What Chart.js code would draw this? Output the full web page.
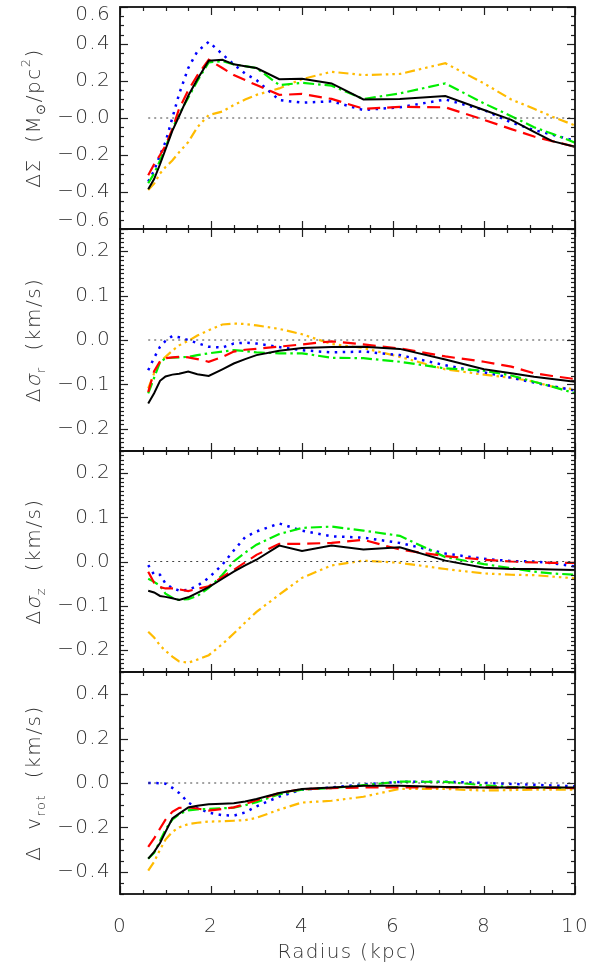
<!DOCTYPE html>
<html><head><meta charset="utf-8">
<script src="https://cdn.jsdelivr.net/npm/chart.js@4.4.1/dist/chart.umd.min.js"></script>
<style>
html,body{margin:0;padding:0;background:#fff;width:601px;height:965px;overflow:hidden}
canvas{position:absolute;left:0}
</style></head><body>
<canvas id="c0" width="601" height="234" style="top:1px"></canvas>
<canvas id="c1" width="601" height="234" style="top:223px"></canvas>
<canvas id="c2" width="601" height="233" style="top:445px"></canvas>
<canvas id="c3" width="601" height="299" style="top:666px"></canvas>
<script>
// ---------------- data ----------------
const radius = [0.62, 0.75, 0.88, 1.0, 1.15, 1.3, 1.5, 1.7, 1.95, 2.25, 2.5, 2.75, 3.0, 3.5, 4.0, 4.65, 5.35, 6.15, 7.15, 8.0, 8.6, 9.1, 9.5, 10.0];

// Delta Sigma (Msun/pc^2)
const surfBlack  = [-0.385,-0.33,-0.25,-0.17,-0.07,0.01,0.12,0.21,0.31,0.315,0.29,0.28,0.27,0.21,0.212,0.187,0.10,0.103,0.119,0.043,-0.01,-0.075,-0.125,-0.155];
const surfRed    = [-0.31,-0.25,-0.20,-0.15,-0.06,0.05,0.15,0.23,0.315,0.27,0.232,0.205,0.178,0.125,0.13,0.103,0.05,0.06,0.058,-0.01,-0.06,-0.10,-0.125,-0.155];
const surfGreen  = [-0.353,-0.30,-0.23,-0.16,-0.06,0.02,0.11,0.20,0.30,0.308,0.29,0.28,0.27,0.178,0.19,0.175,0.103,0.133,0.187,0.079,0.01,-0.05,-0.085,-0.133];
const surfBlue   = [-0.344,-0.285,-0.20,-0.13,0.0,0.13,0.27,0.36,0.412,0.345,0.29,0.24,0.205,0.097,0.083,0.09,0.043,0.058,0.10,0.043,-0.025,-0.065,-0.09,-0.123];
const surfOrange = [-0.389,-0.355,-0.30,-0.265,-0.23,-0.185,-0.13,-0.05,0.016,0.035,0.07,0.10,0.125,0.16,0.21,0.25,0.232,0.238,0.296,0.187,0.10,0.05,0.007,-0.04];

// Delta sigma_r (km/s)
const sigRBlack  = [-0.143,-0.12,-0.092,-0.082,-0.078,-0.076,-0.071,-0.077,-0.081,-0.066,-0.053,-0.043,-0.034,-0.024,-0.018,-0.016,-0.015,-0.02,-0.044,-0.066,-0.075,-0.083,-0.088,-0.094];
const sigRRed    = [-0.117,-0.07,-0.048,-0.041,-0.039,-0.038,-0.039,-0.043,-0.049,-0.038,-0.026,-0.022,-0.02,-0.015,-0.01,-0.003,-0.01,-0.019,-0.037,-0.049,-0.06,-0.075,-0.081,-0.088];
const sigRGreen  = [-0.12,-0.085,-0.05,-0.041,-0.04,-0.039,-0.038,-0.034,-0.03,-0.026,-0.023,-0.025,-0.028,-0.03,-0.03,-0.04,-0.041,-0.049,-0.064,-0.069,-0.08,-0.094,-0.105,-0.12];
const sigRBlue   = [-0.068,-0.04,-0.015,-0.002,0.009,0.006,0.0,-0.007,-0.015,-0.017,-0.008,-0.006,-0.008,-0.016,-0.023,-0.028,-0.026,-0.034,-0.057,-0.073,-0.085,-0.096,-0.104,-0.114];
const sigROrange = [-0.109,-0.075,-0.05,-0.038,-0.024,-0.012,-0.002,0.01,0.022,0.035,0.037,0.036,0.033,0.025,0.013,-0.009,-0.018,-0.038,-0.066,-0.078,-0.085,-0.094,-0.105,-0.111];

// Delta sigma_z (km/s)
const sigZBlack  = [-0.066,-0.07,-0.078,-0.08,-0.083,-0.087,-0.081,-0.071,-0.058,-0.039,-0.023,-0.009,0.004,0.036,0.024,0.036,0.027,0.032,0.002,-0.014,-0.017,-0.017,-0.018,-0.019];
const sigZRed    = [-0.023,-0.048,-0.058,-0.061,-0.061,-0.063,-0.067,-0.062,-0.056,-0.035,-0.019,-0.002,0.015,0.04,0.04,0.042,0.049,0.027,0.012,0.004,0.0,-0.002,-0.003,-0.003];
const sigZGreen  = [-0.039,-0.046,-0.055,-0.073,-0.082,-0.087,-0.085,-0.078,-0.06,-0.03,0.0,0.02,0.038,0.062,0.076,0.079,0.07,0.058,0.01,-0.006,-0.015,-0.023,-0.027,-0.03];
const sigZBlue   = [-0.008,-0.03,-0.03,-0.05,-0.06,-0.066,-0.064,-0.055,-0.037,-0.007,0.025,0.055,0.068,0.086,0.07,0.057,0.054,0.042,0.018,0.006,0.001,0.0,-0.004,-0.011];
const sigZOrange = [-0.159,-0.172,-0.19,-0.202,-0.215,-0.226,-0.229,-0.222,-0.212,-0.187,-0.163,-0.138,-0.114,-0.075,-0.037,-0.009,0.002,-0.003,-0.017,-0.027,-0.03,-0.031,-0.034,-0.038];

// Delta v_rot (km/s)
const vrotBlack  = [-0.341,-0.31,-0.27,-0.22,-0.16,-0.138,-0.11,-0.102,-0.096,-0.093,-0.091,-0.083,-0.072,-0.045,-0.027,-0.02,-0.012,-0.012,-0.018,-0.02,-0.02,-0.02,-0.02,-0.02];
const vrotRed    = [-0.288,-0.25,-0.205,-0.165,-0.13,-0.112,-0.11,-0.115,-0.124,-0.117,-0.11,-0.095,-0.078,-0.045,-0.028,-0.023,-0.02,-0.02,-0.02,-0.02,-0.021,-0.022,-0.022,-0.023];
const vrotGreen  = [-0.341,-0.315,-0.26,-0.21,-0.165,-0.14,-0.123,-0.119,-0.117,-0.114,-0.111,-0.10,-0.086,-0.051,-0.03,-0.023,-0.01,0.006,0.005,-0.01,-0.018,-0.02,-0.022,-0.023];
const vrotBlue   = [0.0,0.0,-0.001,-0.003,-0.022,-0.045,-0.088,-0.112,-0.134,-0.145,-0.147,-0.133,-0.105,-0.061,-0.03,-0.02,-0.006,0.005,0.006,0.0,-0.004,-0.008,-0.011,-0.015];
const vrotOrange = [-0.395,-0.355,-0.30,-0.255,-0.22,-0.20,-0.185,-0.179,-0.174,-0.172,-0.17,-0.167,-0.157,-0.12,-0.088,-0.08,-0.062,-0.026,-0.027,-0.034,-0.032,-0.03,-0.03,-0.03];

// ticks
const xTickValues = [0, 2, 4, 6, 8, 10];
const xTickLabels = ['0', '2', '4', '6', '8', '10'];
const yTicksSurf  = [-0.6, -0.4, -0.2, 0.0, 0.2, 0.4, 0.6];
const yLabelsSurf = [['\u22120.6',''], '\u22120.4', '\u22120.2', '\u22120.0', '0.2', '0.4', ['','0.6']];
const yTicksSig   = [-0.2, -0.1, 0.0, 0.1, 0.2];
const yLabelsSig  = ['\u22120.2', '\u22120.1', '0.0', '0.1', '0.2'];
const yTicksVrot  = [-0.4, -0.2, 0.0, 0.2, 0.4];
const yLabelsVrot = ['\u22120.4', '\u22120.2', '0.0', '0.2', '0.4'];

// ---------------- styles ----------------
const FONT = '"DejaVu Sans ExtraLight", "DejaVu Sans", sans-serif';
const FW = 200;
const TXT = '#333333';
const seriesStyles = [
  {color:'#000000', dash:[], w:2},
  {color:'#ff0000', dash:[13,7], w:2.2},
  {color:'#00ee00', dash:[11,4,2.5,4], w:2.2},
  {color:'#0000ff', dash:[2.5,5.5], w:2.5},
  {color:'#ffbb00', dash:[10,4,2.5,4,2.5,4,2.5,4], w:2.2}
];

const spacing = {
  id:'spacing',
  beforeDraw(chart){ chart.ctx.letterSpacing = '1.3px'; }
};

const frameTicks = {
  id:'frameTicks',
  afterDraw(chart, args, o){
    const {ctx, chartArea:a} = chart;
    const xs = chart.scales.x, ys = chart.scales.y;
    ctx.save();
    ctx.strokeStyle = '#222';
    ctx.lineWidth = 1.2;
    const line = (x1,y1,x2,y2)=>{ctx.beginPath();ctx.moveTo(x1,y1);ctx.lineTo(x2,y2);ctx.stroke();};
    const n = Math.round((xs.max - xs.min)/o.xMinor);
    for (let i=0;i<=n;i++){
      const v = xs.min + i*o.xMinor;
      const px = Math.round(xs.getPixelForValue(v))+0.5;
      const L = (i % o.xEvery === 0) ? 8 : 4;
      line(px, a.bottom, px, a.bottom-L);
      line(px, a.top, px, a.top+L);
    }
    const m = Math.round((ys.max - ys.min)/o.yMinor);
    for (let i=0;i<=m;i++){
      const v = ys.min + i*o.yMinor;
      const py = Math.round(ys.getPixelForValue(v))+0.5;
      const L = (Math.abs(Math.round(v/o.yMajor)*o.yMajor - v) < 1e-6) ? 8 : 4;
      line(a.left, py, a.left+L, py);
      line(a.right, py, a.right-L, py);
    }
    ctx.strokeStyle = '#111';
    ctx.lineWidth = 1.8;
    ctx.strokeRect(a.left, a.top, a.right-a.left, a.bottom-a.top);
    ctx.restore();
  }
};

const yTitle = {
  id:'yTitle',
  afterDraw(chart, args, o){
    const {ctx, chartArea:a} = chart;
    const cy = (a.top + a.bottom)/2 + (o.dy||0);
    ctx.save();
    ctx.fillStyle = TXT;
    ctx.letterSpacing = '1.5px';
    ctx.textBaseline = 'alphabetic';
    const fontFor = s => FW + ' ' + ((s.sub||s.sup)?13:20) + 'px ' + FONT;
    let total = 0;
    o.segments.forEach(s=>{ctx.font = fontFor(s); s.w = ctx.measureText(s.t).width; total += s.w;});
    ctx.translate(o.x, cy);
    ctx.rotate(-Math.PI/2);
    let pos = -total/2;
    o.segments.forEach(s=>{
      ctx.font = fontFor(s);
      const dy = s.sub ? 5 : (s.sup ? -10 : 0);
      if (s.slant){
        ctx.save();
        ctx.translate(pos, dy);
        ctx.transform(1,0,-0.22,1,0,0);
        ctx.fillText(s.t, 0, 0);
        ctx.restore();
      } else {
        ctx.fillText(s.t, pos, dy);
      }
      pos += s.w;
    });
    ctx.restore();
  }
};

function buildChart(id, yMin, yMax, yTicks, yLabels, yMajor, yMinor, series, segments, isBottom){
  const datasets = [{
    data:[{x:radius[0],y:0},{x:10,y:0}],
    borderColor:'#444', borderWidth:1, borderDash:[2,4], pointRadius:0
  }];
  series.forEach((vals, k)=>{
    datasets.push({
      data: radius.map((r,i)=>({x:r, y:vals[i]})),
      borderColor: seriesStyles[k].color,
      borderDash: seriesStyles[k].dash,
      borderWidth: seriesStyles[k].w,
      pointRadius: 0,
      tension: 0,
      borderCapStyle: 'butt'
    });
  });
  return new Chart(document.getElementById(id), {
    type:'line',
    data:{datasets},
    plugins:[spacing, frameTicks, yTitle],
    options:{
      responsive:false, animation:false, devicePixelRatio:1,
      layout:{padding:{top:6,left:0,right:26,bottom:0}},
      plugins:{legend:{display:false}, tooltip:{enabled:false},
        frameTicks:{xMinor:0.5, xEvery:4, yMinor, yMajor},
        yTitle:{x:40, segments}},
      scales:{
        x:{type:'linear', min:0, max:10,
          afterBuildTicks: s=>{ s.ticks = xTickValues.map(v=>({value:v})); },
          afterFit: s=>{ s.height = isBottom ? 71 : 6; s.paddingLeft = 0; s.paddingRight = 0; },
          ticks:{display:isBottom, autoSkip:false, maxRotation:0, padding:21,
            callback:(v,i)=>xTickLabels[i], color:TXT, font:{family:FONT, size:20, weight:FW}},
          grid:{display:false, drawTicks:false}, border:{display:false},
          title:{display:isBottom, text:'Radius (kpc)', color:TXT, font:{family:FONT, size:20, weight:FW}, padding:{top:0,bottom:0}}
        },
        y:{type:'linear', min:yMin, max:yMax,
          afterBuildTicks: s=>{ s.ticks = yTicks.map(v=>({value:v})); },
          afterFit: s=>{ s.width = 120; s.paddingTop = 0; s.paddingBottom = 0; },
          ticks:{autoSkip:false, padding:9, callback:(v,i)=>yLabels[i], color:TXT,
            font:{family:FONT, size:20, weight:FW, lineHeight:0.8}},
          grid:{display:false, drawTicks:false}, border:{display:false}
        }
      }
    }
  });
}

buildChart('c0', -0.6, 0.6, yTicksSurf, yLabelsSurf, 0.2, 0.05,
  [surfBlack, surfRed, surfGreen, surfBlue, surfOrange],
  [{t:'\u0394\u03A3  (M'},{t:'\u2299',sub:true},{t:'/pc'},{t:'2',sup:true},{t:')'}], false);
buildChart('c1', -0.25, 0.25, yTicksSig, yLabelsSig, 0.1, 0.01,
  [sigRBlack, sigRRed, sigRGreen, sigRBlue, sigROrange],
  [{t:'\u0394'},{t:'\u03C3',slant:true},{t:'r',sub:true},{t:'  (km/s)'}], false);
buildChart('c2', -0.25, 0.25, yTicksSig, yLabelsSig, 0.1, 0.01,
  [sigZBlack, sigZRed, sigZGreen, sigZBlue, sigZOrange],
  [{t:'\u0394'},{t:'\u03C3',slant:true},{t:'z',sub:true},{t:'  (km/s)'}], false);
buildChart('c3', -0.5, 0.5, yTicksVrot, yLabelsVrot, 0.2, 0.05,
  [vrotBlack, vrotRed, vrotGreen, vrotBlue, vrotOrange],
  [{t:'\u0394  v'},{t:'rot',sub:true},{t:'  (km/s)'}], true);
</script>
</body></html>
